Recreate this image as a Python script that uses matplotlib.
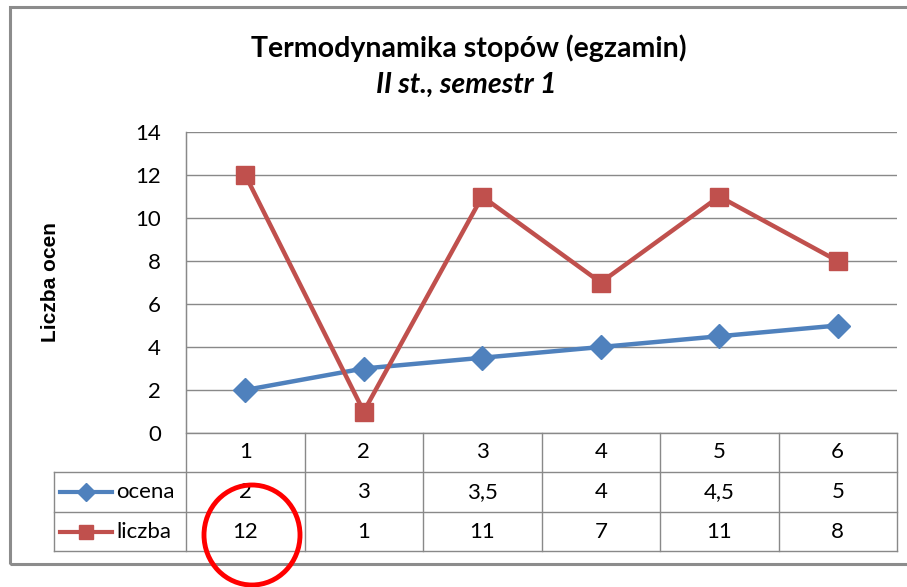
import matplotlib.pyplot as plt
import matplotlib.transforms as mtransforms
from matplotlib.patches import Ellipse, Rectangle

plt.rcParams['font.family'] = ['Lato', 'DejaVu Sans']

categories = [1, 2, 3, 4, 5, 6]
ocena = [2, 3, 3.5, 4, 4.5, 5]
liczba = [12, 1, 11, 7, 11, 8]
yticks = [0, 2, 4, 6, 8, 10, 12, 14]

blue = '#4F81BD'
red = '#C0504D'
grid = '#898989'

fig = plt.figure(figsize=(9.07, 5.87), dpi=100)
W, H = 907, 587

def fx(px):
    return px / W

def fy(py):
    return 1 - py / H

# outer chart frame
fig.patches.append(Rectangle((fx(10), fy(564)), fx(1000) - fx(10), fy(7) - fy(564),
                             transform=fig.transFigure, fill=False,
                             edgecolor='#8c8c8c', lw=2.2))

ax = fig.add_axes([fx(186), fy(433), fx(897) - fx(186), fy(132) - fy(433)])
xs = [c - 0.5 for c in categories]

ax.plot(xs, ocena, color=blue, lw=3.2, marker='D', ms=12, zorder=3)
ax.plot(xs, liczba, color=red, lw=3.2, marker='s', ms=13, zorder=4)

ax.set_xlim(0, 6)
ax.set_ylim(0, 14)
ax.set_yticks(yticks)
ax.set_xticks([])
ax.yaxis.grid(True, color=grid, lw=1)
ax.set_axisbelow(True)
ax.tick_params(axis='y', length=0, pad=18, labelsize=16)
for s in ['top', 'right', 'bottom']:
    ax.spines[s].set_visible(False)
ax.spines['left'].set_color(grid)

ax.set_ylabel('Liczba ocen', family=['Liberation Sans', 'DejaVu Sans'],
              fontweight='bold', fontsize=15)
ax.yaxis.set_label_coords(-(186 - 60) / 711, 0.5)

# data table under the plot
tr = mtransforms.blended_transform_factory(ax.transData, ax.transAxes)
ah = 301.0
r1, r2, r3 = -39 / ah, -79 / ah, -118 / ah
xl = -132 / 118.5

kw = dict(transform=tr, color=grid, lw=1, clip_on=False)
ax.plot([0, 0], [1, r3], **kw)
ax.plot([0, 6], [0, 0], **kw)
ax.plot([xl, 6], [r1, r1], **kw)
ax.plot([xl, 6], [r2, r2], **kw)
ax.plot([xl, 6], [r3, r3], **kw)
ax.plot([xl, xl], [r1, r3], **kw)
for c in categories:
    ax.plot([c, c], [0, r3], **kw)

def fmt(v):
    return ('%g' % v).replace('.', ',')

for x, c, o, l in zip(xs, categories, ocena, liczba):
    ax.text(x, r1 / 2, str(c), transform=tr, ha='center', va='center', fontsize=16)
    ax.text(x, (r1 + r2) / 2, fmt(o), transform=tr, ha='center', va='center', fontsize=16)
    ax.text(x, (r2 + r3) / 2, fmt(l), transform=tr, ha='center', va='center', fontsize=16)

# legend keys inside the table
k0, k1 = (60 - 186) / 118.5, (112 - 186) / 118.5
for yy, col, mk, ms, name in [((r1 + r2) / 2, blue, 'D', 9, 'ocena'),
                              ((r2 + r3) / 2, red, 's', 10, 'liczba')]:
    ax.plot([k0, k1], [yy, yy], color=col, lw=3, transform=tr, clip_on=False)
    ax.plot([(k0 + k1) / 2], [yy], color=col, marker=mk, ms=ms, transform=tr, clip_on=False)
    ax.text((116 - 186) / 118.5, yy, name, transform=tr, ha='left', va='center', fontsize=16)

fig.text(fx(469), fy(48), 'Termodynamika stopów (egzamin)', ha='center', va='center',
         fontsize=20.5, fontweight='bold')
fig.text(fx(466), fy(85), 'II st., semestr 1', ha='center', va='center',
         fontsize=20.5, fontweight='bold', style='italic')

# red highlight circle
fig.patches.append(Ellipse((fx(252), fy(535)), fx(96), 100 / H, transform=fig.transFigure,
                           fill=False, edgecolor='#FF0000', lw=3.5))

fig.savefig('out.png', dpi=100)
